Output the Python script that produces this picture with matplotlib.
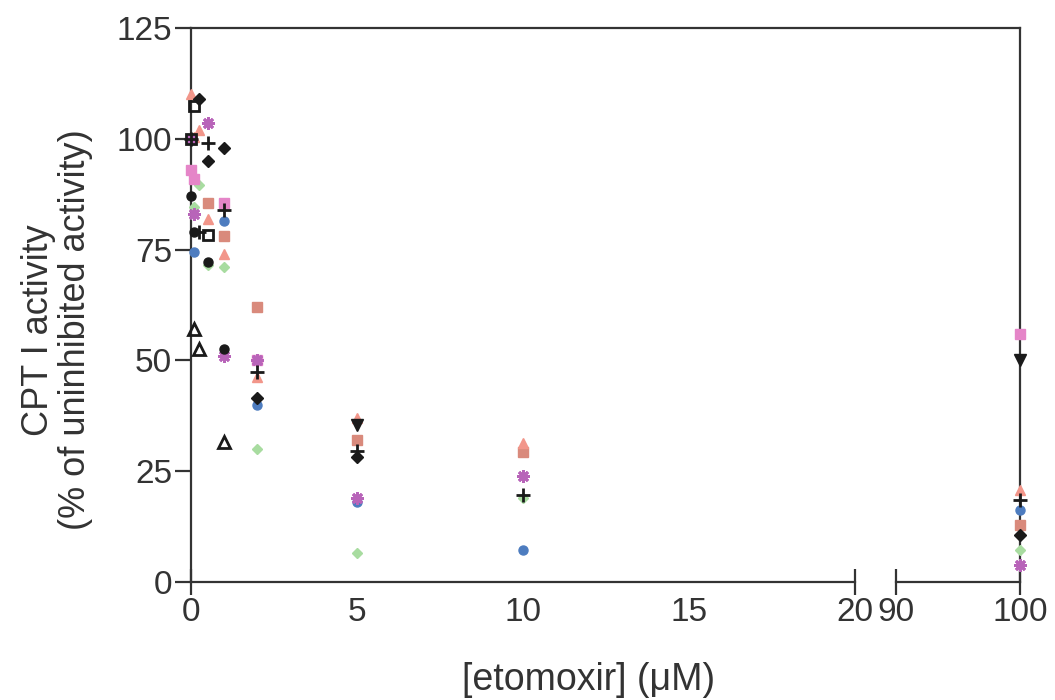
#!/usr/bin/env python3
"""CPT I activity vs etomoxir concentration, broken x axis (0-20 | 90-100)."""
import matplotlib
matplotlib.use("Agg")
import matplotlib.pyplot as plt
from matplotlib.lines import Line2D

plt.rcParams["font.family"] = ["Liberation Sans", "DejaVu Sans"]

INK = "#333333"

# one entry per experiment: x = [etomoxir] (uM), y = % of uninhibited activity
blue_x = [0.1, 1, 2, 5, 10, 100]
blue_y = [74.5, 81.5, 40, 18, 7.2, 16.2]

rsq_x = [0.5, 1, 2, 5, 10, 100]
rsq_y = [85.5, 78, 62, 32, 29.3, 12.9]

rtri_x = [0, 0.1, 0.25, 0.5, 1, 2, 5, 10, 100]
rtri_y = [110, 100.5, 102, 82, 74, 46.3, 37, 31.4, 20.8]

grn_x = [0.1, 0.25, 0.5, 1, 2, 5, 10, 100]
grn_y = [84.6, 89.6, 71.5, 71, 30, 6.5, 19, 7.2]

psq_x = [0, 0, 0.1, 1, 2, 100]
psq_y = [100, 93, 91, 85.5, 50, 56]

ast_x = [0, 0.1, 0.5, 1, 2, 5, 10, 100]
ast_y = [100, 83, 103.5, 51, 50, 19, 24, 3.8]

plus_x = [0, 0.25, 0.5, 1, 2, 5, 10, 100]
plus_y = [100, 79, 99, 84, 47.4, 29.5, 19.6, 18.5]

dia_x = [0.25, 0.5, 1, 2, 5, 100]
dia_y = [109, 95, 98, 41.5, 28.3, 10.6]

circ_x = [0, 0.1, 0.5, 1]
circ_y = [87, 79, 72.3, 52.5]

otri_x = [0.1, 0.25, 1]
otri_y = [57, 52.5, 31.5]

osq_x = [0, 0.1, 0.5]
osq_y = [100, 107.5, 78.3]

dtri_x = [5, 100]
dtri_y = [35.5, 50]

SERIES = [
    (blue_x, blue_y, dict(marker="o", ms=6.5, color="#4d7cbf", mec="#4d7cbf")),
    (rsq_x, rsq_y, dict(marker="s", ms=6.5, color="#d98a7c", mec="#d98a7c")),
    (rtri_x, rtri_y, dict(marker="^", ms=7.5, color="#f2968a", mec="#f2968a")),
    (grn_x, grn_y, dict(marker="D", ms=5, color="#a8dca0", mec="#a8dca0")),
    (psq_x, psq_y, dict(marker="s", ms=6.5, color="#e585c8", mec="#e585c8")),
    (ast_x, ast_y, dict(marker=(8, 2, 0), ms=9, color="#b864b9", mec="#b864b9", mew=2)),
    (plus_x, plus_y, dict(marker="+", ms=10, color="#1a1a1a", mew=2)),
    (dia_x, dia_y, dict(marker="D", ms=6, color="#1a1a1a")),
    (circ_x, circ_y, dict(marker="o", ms=6.5, color="#1a1a1a")),
    (otri_x, otri_y, dict(marker="^", ms=8, mfc="none", mec="#1a1a1a", mew=2)),
    (osq_x, osq_y, dict(marker="s", ms=7.5, mfc="none", mec="#1a1a1a", mew=2)),
    (dtri_x, dtri_y, dict(marker="v", ms=8, color="#1a1a1a")),
]

W, H = 1055, 700
fig = plt.figure(figsize=(W / 100, H / 100), dpi=100)
bot, top = 118 / H, 554 / H
ax1 = fig.add_axes([191 / W, bot, (855 - 191) / W, top])
ax2 = fig.add_axes([896 / W, bot, (1020 - 896) / W, top], sharey=ax1)

for ax, lo, hi in ((ax1, 0, 20), (ax2, 90, 100)):
    for xs, ys, kw in SERIES:
        pts = [(x, y) for x, y in zip(xs, ys) if lo <= x <= hi]
        if pts:
            px, py = zip(*pts)
            ax.plot(px, py, ls="none", clip_on=False, zorder=3, **kw)
    ax.set_xlim(lo, hi)
    for s in ax.spines.values():
        s.set_color(INK)
        s.set_linewidth(1.6)
    ax.spines["top"].set_visible(False)

ax1.set_ylim(0, 125)
ax1.set_yticks([0, 25, 50, 75, 100, 125])
ax1.spines["right"].set_visible(False)
ax2.spines["left"].set_visible(False)

ax1.set_xticks([0, 5, 10, 15, 20])
ax2.set_xticks([90, 100])
ax2.tick_params(axis="y", left=False, labelleft=False)
for ax in (ax1, ax2):
    ax.tick_params(axis="x", direction="inout", length=19, width=1.6,
                   color=INK, labelsize=24, labelcolor=INK, pad=1)
ax1.tick_params(axis="y", direction="out", length=11.5, width=1.6,
                color=INK, labelsize=24, labelcolor=INK, pad=2)
# labels only at 5, 10, 15
for t in ax1.xaxis.get_major_ticks()[1:4]:
    t.tick1line.set_visible(False)

# continuous top frame across the break
fig.add_artist(Line2D([191 / W, 1020 / W], [1 - 28 / H] * 2,
                      transform=fig.transFigure, color=INK, lw=1.6))

ax1.set_ylabel("CPT I activity\n(% of uninhibited activity)", fontsize=26,
               color=INK, va="center", linespacing=1.1)
ax1.yaxis.set_label_coords((57 - 191) / 664, 0.455)
fig.text(589 / W, 1 - 680 / H, "[etomoxir] (\u03bcM)", fontsize=27,
         color=INK, ha="center", va="center")

fig.savefig("out.png", dpi=100)
